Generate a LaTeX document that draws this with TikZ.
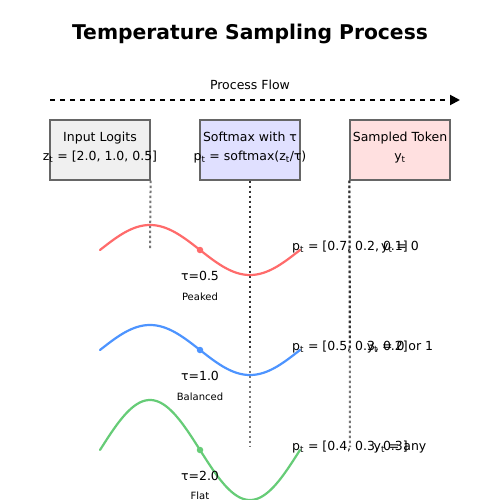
\documentclass[tikz,border=0pt]{standalone}
\usepackage{fontspec}
\setmainfont{DejaVu Sans}
\usetikzlibrary{arrows.meta}
\definecolor{logitfill}{HTML}{F0F0F0}
\definecolor{softfill}{HTML}{E0E0FF}
\definecolor{tokfill}{HTML}{FFE0E0}
\definecolor{boxline}{HTML}{666666}
\definecolor{guidegray}{HTML}{777777}
\definecolor{guidedark}{HTML}{333333}
\definecolor{curvered}{HTML}{FF6B6B}
\definecolor{curveblue}{HTML}{4D94FF}
\definecolor{curvegreen}{HTML}{66CC77}
\newcommand{\tsb}{\textsubscript{t}}
\begin{document}
\begin{tikzpicture}[x=1pt,y=-1pt,
  stagebox/.style={draw=boxline,line width=1.2pt,minimum width=100pt,minimum height=60pt,inner sep=0pt},
  txt/.style={anchor=base,inner sep=0pt,font=\fontsize{12.5}{14}\selectfont},
  small/.style={anchor=base,inner sep=0pt,font=\fontsize{10}{12}\selectfont},
  guidegrayline/.style={draw=guidegray,line width=2pt,dash pattern=on 2.5pt off 2.5pt},
  guidedarkline/.style={draw=guidedark,line width=2pt,dash pattern=on 2.5pt off 2.5pt},
  flowline/.style={draw=black,line width=2pt,dash pattern=on 5pt off 5pt,-{Triangle[length=10pt,width=10pt]}},
  wave/.style={line width=2.2pt,line cap=round},
  dot/.style={circle,inner sep=0pt,minimum size=6.5pt}
]
\useasboundingbox (0,0) rectangle (500,500);
\fill[white] (0,0) rectangle (500,500);

% title
\node[anchor=base,inner sep=0pt,font=\fontsize{20.3}{24}\selectfont\bfseries] (title) at (250,40) {Temperature Sampling Process};

% process flow
\node[txt] (flowlabel) at (250,90) {Process Flow};
\coordinate (flowstart) at (50,100);
\coordinate (flowend) at (460,100);
\draw[flowline] (flowstart) -- (flowend);

% boxes
\node[stagebox,fill=logitfill] (logits) at (100,150) {};
\node[stagebox,fill=softfill] (softmax) at (250,150) {};
\node[stagebox,fill=tokfill] (token) at (400,150) {};

\node[txt] (logitsA) at (100,141) {Input Logits};
\node[txt] (logitsB) at (100,160) {z\tsb{} = [2.0, 1.0, 0.5]};
\node[txt] (softA) at (250,141) {Softmax with τ};
\node[txt] (softB) at (250,160) {p\tsb{} = softmax(z\tsb/τ)};
\node[txt] (tokA) at (400,141) {Sampled Token};
\node[txt] (tokB) at (400,160) {y\tsb};

% guide lines
\coordinate (gA) at (150,250);
\coordinate (gB) at (250,447);
\coordinate (gC) at (350,447);
\coordinate (gBmid) at (250,350);
\coordinate (gCmid) at (350,350);
\draw[guidegrayline] (logits.south east) -- (gA);
\draw[guidegrayline] (softmax.south) -- (gB);
\draw[guidegrayline] (token.south west) -- (gC);
\draw[guidedarkline] (softmax.south) -- (gBmid);
\draw[guidedarkline] (token.south west) -- (gCmid);

% waves
\draw[wave,curvered] plot[domain=100:300,samples=120] (\x,{250-25*sin((\x-100)*1.8)});
\draw[wave,curveblue] plot[domain=100:300,samples=120] (\x,{350-25*sin((\x-100)*1.8)});
\draw[wave,curvegreen] plot[domain=100:300,samples=120] (\x,{450-50*sin((\x-100)*1.8)});

\node[dot,fill=curvered] (redpt) at (200,250) {};
\node[dot,fill=curveblue] (bluept) at (200,350) {};
\node[dot,fill=curvegreen] (greenpt) at (200,450) {};

% labels
\node[txt] (tauA) at (200,280) {τ=0.5};
\node[small] (tauAlab) at (200,300) {Peaked};
\node[txt] (tauB) at (200,380) {τ=1.0};
\node[small] (tauBlab) at (200,400) {Balanced};
\node[txt] (tauC) at (200,480) {τ=2.0};
\node[small] (tauClab) at (200,499) {Flat};

\node[txt] (probA) at (350,250) {p\tsb{} = [0.7, 0.2, 0.1]};
\node[txt] (probB) at (350,350) {p\tsb{} = [0.5, 0.3, 0.2]};
\node[txt] (probC) at (350,450) {p\tsb{} = [0.4, 0.3, 0.3]};
\node[txt] (sampA) at (400,250) {y\tsb{} = 0};
\node[txt] (sampB) at (400,350) {y\tsb{} = 0 or 1};
\node[txt] (sampC) at (400,450) {y\tsb{} = any};
\end{tikzpicture}
\end{document}
